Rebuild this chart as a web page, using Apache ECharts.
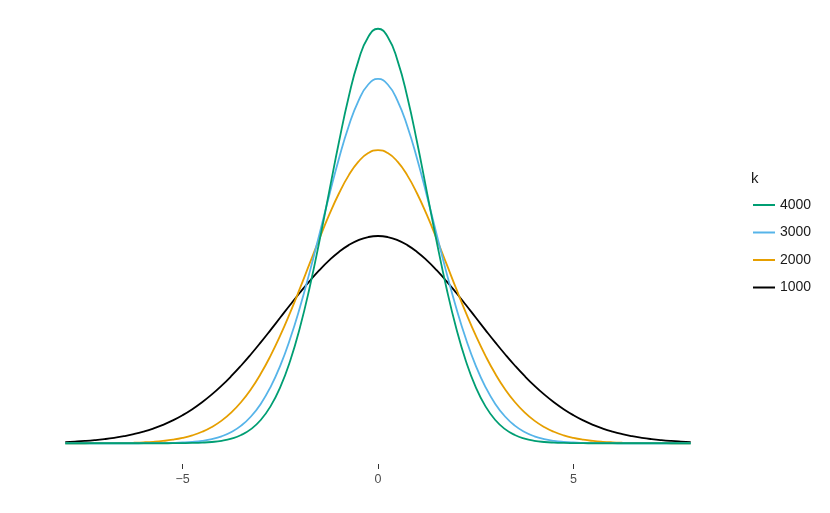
<!DOCTYPE html>
<html><head><meta charset="utf-8">
<script src="https://cdn.jsdelivr.net/npm/echarts@6/dist/echarts.min.js"></script>
<style>html,body{margin:0;padding:0;background:#fff}#c{width:830px;height:513px}</style>
</head><body><div id="c"></div>
<script>
var xs = [-8,-7.75,-7.5,-7.25,-7,-6.75,-6.5,-6.25,-6,-5.75,-5.5,-5.25,-5,-4.75,-4.5,-4.25,-4,-3.75,-3.5,-3.25,-3,-2.75,-2.5,-2.25,-2,-1.75,-1.5,-1.25,-1,-0.75,-0.5,-0.25,0,0.25,0.5,0.75,1,1.25,1.5,1.75,2,2.25,2.5,2.75,3,3.25,3.5,3.75,4,4.25,4.5,4.75,5,5.25,5.5,5.75,6,6.25,6.5,6.75,7,7.25,7.5,7.75,8];
var k1000 = [0.00095,0.00131,0.00177,0.00238,0.00317,0.00417,0.00543,0.00701,0.00896,0.01133,0.01419,0.01759,0.02160,0.02625,0.03158,0.03762,0.04437,0.05181,0.05989,0.06855,0.07768,0.08714,0.09679,0.10644,0.11588,0.12490,0.13329,0.14083,0.14731,0.15256,0.15642,0.15878,0.15958,0.15878,0.15642,0.15256,0.14731,0.14083,0.13329,0.12490,0.11588,0.10644,0.09679,0.08714,0.07768,0.06855,0.05989,0.05181,0.04437,0.03762,0.03158,0.02625,0.02160,0.01759,0.01419,0.01133,0.00896,0.00701,0.00543,0.00417,0.00317,0.00238,0.00177,0.00131,0.00095];
var k2000 = [0.00001,0.00002,0.00003,0.00005,0.00009,0.00015,0.00026,0.00044,0.00071,0.00114,0.00179,0.00274,0.00413,0.00610,0.00884,0.01254,0.01745,0.02379,0.03179,0.04164,0.05347,0.06730,0.08302,0.10040,0.11900,0.13826,0.15745,0.17576,0.19231,0.20626,0.21683,0.22343,0.22568,0.22343,0.21683,0.20626,0.19231,0.17576,0.15745,0.13826,0.11900,0.10040,0.08302,0.06730,0.05347,0.04164,0.03179,0.02379,0.01745,0.01254,0.00884,0.00610,0.00413,0.00274,0.00179,0.00114,0.00071,0.00044,0.00026,0.00015,0.00009,0.00005,0.00003,0.00002,0.00001];
var k3000 = [0,0,0,0,0,0,0.00001,0.00002,0.00004,0.00008,0.00016,0.00031,0.00058,0.00106,0.00188,0.00323,0.00537,0.00867,0.01358,0.02061,0.03032,0.04326,0.05983,0.08025,0.10435,0.13157,0.16084,0.19063,0.21907,0.24409,0.26369,0.27620,0.28050,0.27620,0.26369,0.24409,0.21907,0.19063,0.16084,0.13157,0.10435,0.08025,0.05983,0.04326,0.03032,0.02061,0.01358,0.00867,0.00537,0.00323,0.00188,0.00106,0.00058,0.00031,0.00016,0.00008,0.00004,0.00002,0.00001,0,0,0,0,0,0];
var k4000 = [0,0,0,0,0,0,0,0,0,0.00001,0.00002,0.00005,0.00011,0.00023,0.00049,0.00099,0.00191,0.00355,0.00633,0.01087,0.01791,0.02838,0.04319,0.06316,0.08874,0.11978,0.15535,0.19357,0.23175,0.26658,0.29461,0.31283,0.31915,0.31283,0.29461,0.26658,0.23175,0.19357,0.15535,0.11978,0.08874,0.06316,0.04319,0.02838,0.01791,0.01087,0.00633,0.00355,0.00191,0.00099,0.00049,0.00023,0.00011,0.00005,0.00002,0.00001,0,0,0,0,0,0,0,0,0];
var seriesNames = ['4000','3000','2000','1000'];
var seriesColors = ['#009E73','#56B4E9','#E69F00','#000000'];
var xTicks = [-5,0,5];

var FONT = '"Liberation Sans", Arial, sans-serif';
function pairs(ys){ return xs.map(function(x,i){ return [x, ys[i]]; }); }
var dataMap = {'4000':k4000,'3000':k3000,'2000':k2000,'1000':k1000};
var drawOrder = ['1000','2000','3000','4000'];

var chart = echarts.init(document.getElementById('c'), null, {renderer:'canvas'});
chart.setOption({
  animation:false,
  backgroundColor:'#ffffff',
  grid:{left:34, top:8, width:688, height:456, containLabel:false},
  xAxis:{type:'value', min:-8.8, max:8.8,
    axisLine:{show:false, onZero:false},
    splitLine:{show:false},
    axisTick:{show:true, customValues:xTicks, length:5, lineStyle:{color:'#333333', width:1}},
    axisLabel:{show:true, customValues:xTicks, margin:9, fontFamily:FONT, fontSize:12.5, color:'#4d4d4d',
      formatter:function(v){ return v<0 ? '\u2212'+Math.abs(v) : String(v); }}
  },
  yAxis:{type:'value', min:-0.01596, max:0.33511, show:false, splitLine:{show:false}},
  legend:{orient:'vertical', left:753, top:197, padding:0, itemWidth:22, itemHeight:2, itemGap:11.5, icon:'rect',
    data:seriesNames,
    textStyle:{fontFamily:FONT, fontSize:14, color:'#1a1a1a', lineHeight:16}},
  graphic:[{type:'text', left:751, top:171, style:{text:'k', fontFamily:FONT, fontSize:15, fill:'#1a1a1a'}}],
  series: drawOrder.map(function(n){
    var idx = seriesNames.indexOf(n);
    return {name:n, type:'line', data:pairs(dataMap[n]), smooth:true, symbol:'none', showSymbol:false,
      color:seriesColors[idx], lineStyle:{width:1.8, color:seriesColors[idx]}};
  })
});
</script></body></html>
